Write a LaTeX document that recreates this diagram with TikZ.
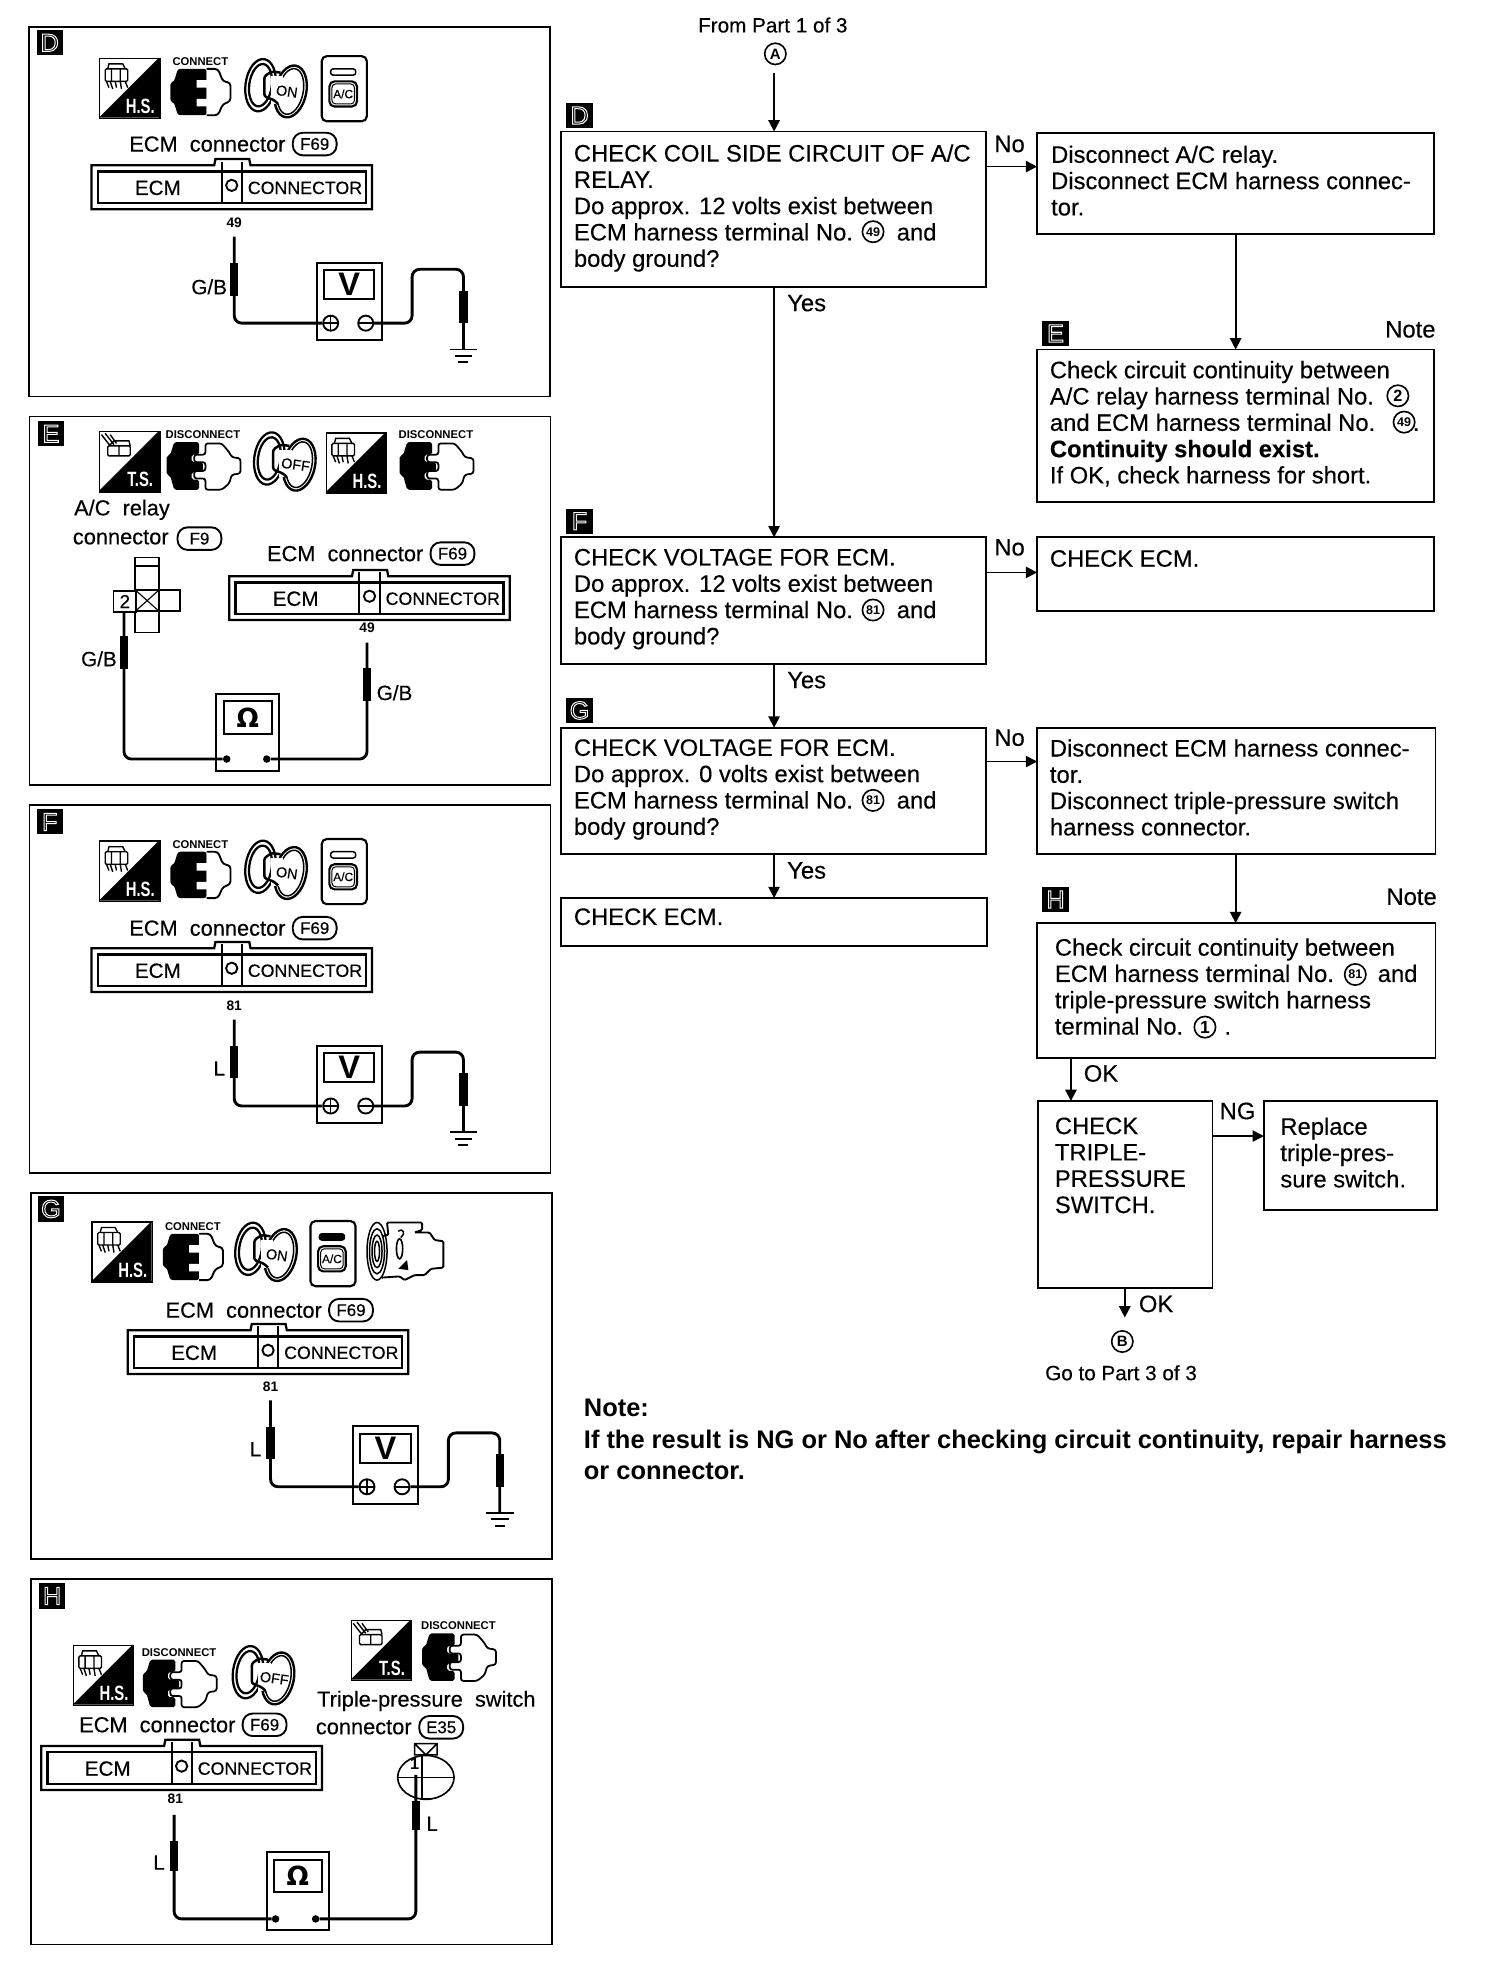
\documentclass[tikz,border=0pt]{standalone}
\usepackage{fontspec}
\usetikzlibrary{arrows.meta}
\setmainfont{Liberation Sans}
\newfontfamily\dvf{DejaVu Sans}
\newfontfamily\heavy[FakeBold=0.3]{Liberation Sans}
\newcommand\fsz[2]{\fontsize{#1}{#2}\selectfont}
\newcommand\hollow[1]{\special{pdf:code 1 Tr 0.8 w 1 G}#1\special{pdf:code 0 Tr 0 G}}
\tikzset{
 x=1pt,y=-1pt,
 tbox/.style={draw,line width=1.5pt,anchor=north west,inner sep=0pt,outer sep=0pt},
 ftext/.style={anchor=north west,inner sep=0pt,align=left,yshift=1pt,font=\heavy\fsz{19}{21}},
 lbl/.style={inner sep=0pt,font=\heavy\fsz{19}{21}},
 lbs/.style={inner sep=0pt,font=\heavy\fsz{16.5}{21}},
 arr/.style={line width=1.4pt,-{Triangle[length=9pt,width=9pt]}},
 tag/.style={fill=black,text=white,minimum width=21pt,minimum height=20pt,inner sep=0pt,font=\fsz{20}{20},anchor=north west},
 panel/.style={draw,line width=1.2pt,anchor=north west,inner sep=0pt},
 wire/.style={line width=2.3pt,rounded corners=6pt},
 probe/.style={line width=6.5pt},
 ln/.style={line width=1.4pt},
 hd/.style={inner sep=0pt,anchor=west,font=\heavy\fsz{17.4}{20}},
 ovl/.style={draw,line width=1.5pt,rounded corners=8pt,minimum width=35pt,minimum height=18pt,inner sep=0pt,font=\heavy\fsz{13.5}{13}},
 cntxt/.style={inner sep=0pt,font=\heavy\fsz{14.2}{15}},
 ecmt/.style={inner sep=0pt,font=\heavy\fsz{16.5}{15}},
 small/.style={inner sep=0pt,font=\bfseries\fsz{11}{11}},
 icont/.style={inner sep=0pt,font=\bfseries\fsz{9}{9}},
 wl/.style={inner sep=0pt,font=\heavy\fsz{16.5}{16}},
 term/.style={circle,draw,line width=1.5pt,fill=white,minimum size=12pt,inner sep=0pt},
 dot/.style={circle,fill=black,minimum size=6pt,inner sep=0pt},
 cnode/.style={circle,draw,line width=1.3pt,fill=white,minimum size=17pt,inner sep=0pt,font=\bfseries\fsz{10}{10}},
}
\newcommand\flowbox[6]{\node[tbox,minimum width={(#4-#2)*1pt},minimum height={(#5-#3)*1pt}] (#1) at (#2,#3) {};}
% ---- icons
\newcommand\iconSq[5]{% prefix x y label kind
\begin{scope}[shift={(#2,#3)}]
\node[draw,line width=1.2pt,fill=white,minimum size=48pt,inner sep=0pt,anchor=north west] (#1-sq) at (0,0) {};
\fill (48,0)--(48,48)--(0,48)--cycle;
\node[inner sep=0pt,text=white,font=\bfseries\fsz{16.5}{16}] (#1-t) at (33,39) {\scalebox{.72}[1]{#4}};
\ifnum#5=0
\draw[line width=1.1pt,rounded corners=1pt] (5,9) rectangle (23,19);
\draw[line width=1.1pt] (7,9)--(8,5)--(19,5)--(21,9) (10,9)--(10,19) (17,9)--(17,19) (9,19)--(11,25) (13,19)--(14,24) (17,19)--(18,25) (21,19)--(23,24) (6,19)--(8,24);
\else
\draw[line width=1.1pt,rounded corners=1pt] (7,12) rectangle (25,20) (16,12)--(16,20);
\draw[line width=1.1pt] (2,3)--(9,12) (5,2)--(12,11) (9,3)--(14,10) (8,12)--(12,8)--(24,8)--(25,12);
\fi
\end{scope}}
\newcommand\iconConn[3]{% prefix x y
\begin{scope}[shift={(#2,#3)}]
\node[icont] (#1-lab) at (24,-6) {CONNECT};
\fill[rounded corners=2pt] (0,11)--(3,10)--(6,0)--(29,0)--(29,37)--(6,37)--(3,27)--(0,26)--cycle;
\draw[line width=1.5pt,fill=white,rounded corners=2.5pt] (29,0)--(38,0)--(42,10)--(48,11)--(48,26)--(42,28)--(38,37)--(29,37);
\fill[white] (21,9) rectangle (30,15) (21,24) rectangle (30,30);
\end{scope}}
\newcommand\iconDisc[3]{%
\begin{scope}[shift={(#2,#3)}]
\node[icont] (#1-lab) at (29,-6) {DISCONNECT};
\fill[rounded corners=1.5pt] (0,11)--(3,10)--(6,0)--(26,0)--(26,10)--(20,10)--(20,16)--(29,16)--(29,24)--(20,24)--(20,30)--(26,30)--(26,38)--(6,38)--(3,27)--(0,26)--cycle;
\draw[line width=1.4pt,fill=white,rounded corners=2pt] (31,1)--(44,1)--(50,8)--(52,12)--(59,13)--(59,25)--(52,26)--(50,33)--(44,38)--(31,38)--(31,29)--(22,29)--(22,23)--(31,23)--(31,16)--(22,16)--(22,10)--(31,10)--cycle;
\end{scope}}
\newcommand\iconKey[4]{%
\begin{scope}[shift={(#2,#3)}]
\draw[line width=1.8pt,rotate around={-8:(12,21)}] (12,21) ellipse [x radius=12,y radius=21] (12,21) ellipse [x radius=9,y radius=17];
\draw[line width=1.9pt,fill=white,rotate around={-12:(36,26)}] (36,26) ellipse [x radius=12.5,y radius=21];
\draw[line width=1.2pt,rotate around={-12:(36,26)}] (36,26) ellipse [x radius=10,y radius=18.5];
\fill[white] (20,14) rectangle (30,36);
\draw[line width=2pt,rounded corners=2pt] (28,11)--(21,10)--(15,14)--(15,30)--(23,33)--(26,36);
\node[inner sep=0pt,rotate=-8,font=\heavy\fsz{11.5}{11}] (#1-t) at (33,26) {#4};
\end{scope}}
\newcommand\iconAC[4]{% prefix x y fill
\begin{scope}[shift={(#2,#3)}]
\node[draw,line width=1.7pt,rounded corners=4pt,minimum width=36pt,minimum height=52pt,inner sep=0pt,anchor=north west] (#1-box) at (0,0) {};
\draw[line width=1.2pt,rounded corners=2pt,fill=#4] (8,11) rectangle (28,16);
\draw[line width=1.7pt,rounded corners=4pt] (7,21) rectangle (29,41);
\draw[line width=.8pt,rounded corners=3pt] (9,23) rectangle (27,39);
\node[inner sep=0pt,font=\heavy\fsz{9.5}{10}] (#1-t) at (18,31) {A/C};
\end{scope}}
\newcommand\iconComp[3]{%
\begin{scope}[shift={(#2,#3)}]
\draw[line width=1.5pt,rounded corners=1pt] (13,12)--(18,11)--(17,1)--(45,1)--(45,7)--(39,9)--(51,9)--(55,15)--(62,16)--(62,37)--(52,38)--(47,43)--(39,43)--(31,47)--(27,44)--(13,45);
\foreach \rr/\ss in {8/23,6/18,4/13,2/8}{\draw[line width=1.2pt] (9,24) ellipse [x radius=\rr,y radius=\ss];}
\draw[line width=1.3pt] (27,22) ellipse [x radius=2.5,y radius=8];
\fill (33,31)--(34,39)--(26,38)--cycle;
\draw[line width=1.2pt] (26,8)..controls (30,5) and (32,10)..(28,13);
\end{scope}}
% ---- ecm connector, coordinates as in panel D
\newcommand\ecmConn[3]{% prefix x y (top-left of outer frame)
\begin{scope}[shift={(#2,#3)}]
\draw[ln,line width=1.8pt] (0,0)--(98,0)--(99,-5)--(126,-5)--(127,0)--(224,0)--(224,35)--(0,35)--cycle;
\draw[ln,line width=1.8pt] (5,5) rectangle (219,30);
\draw[ln,line width=1.6pt] (104,-3)--(104,30) (120,-3)--(120,30);
\draw[line width=1.5pt] (112,16) circle [radius=4.5];
\node[ecmt] (#1-ecm) at (53,18) {ECM};
\node[cntxt] (#1-con) at (170.5,18) {CONNECTOR};
\end{scope}}
\newcommand\ecmHead[3]{%
\node[hd] (#1-hd) at (#2,#3) {ECM\ \ connector};
\node[ovl,anchor=west] (#1-ov) at (#2+130,#3) {F69};}
\newcommand\gnd[3]{\draw[line width=1.5pt] (#2-11,#3)--(#2+11,#3) (#2-7,#3+5)--(#2+7,#3+5) (#2-4,#3+10)--(#2+4,#3+10);}
% ---- voltmeter set-up, coordinates as in panel D
\newcommand\voltset[5]{% prefix dx dy number wirelabel
\begin{scope}[shift={(#2,#3)}]
\node[small] (#1-num) at (187,178) {#4};
\node[wl] (#1-wl) at (#5) {\wirename};
\coordinate (#1-top) at (187,189);
\coordinate (#1-gtop) at (370,279);
\node[draw,line width=1.6pt,minimum width=52pt,minimum height=62pt,inner sep=0pt,anchor=north west] (#1-m) at (252,209) {};
\node[draw,line width=1.6pt,minimum width=40pt,minimum height=23pt,inner sep=0pt,anchor=north west,font=\bfseries\fsz{26}{26}] (#1-w) at (258,215) {V};
\node[term] (#1-p) at (264,258) {};
\node[term] (#1-n) at (292,258) {};
\draw[line width=1.3pt] (258,258)--(270,258) (264,252)--(264,264) (286,258)--(298,258);
\draw[wire] (#1-top)--(187,258)--(#1-p.west);
\draw[wire] (#1-n.east)--(329,258)--(329,215)--(370,215)--(#1-gtop);
\draw[probe] (187,210)--(187,236);
\draw[probe] (370,232)--(370,258);
\gnd{#1}{370}{279}
\end{scope}}
\newcommand\wirename{}
\begin{document}
\begin{tikzpicture}
\useasboundingbox (0,0) rectangle (1201,1568);
\fill[white] (0,0) rectangle (1201,1568);
% panels
\node[panel,minimum width=416pt,minimum height=295pt] (pD) at (22.5,21) {};
\node[panel,minimum width=416pt,minimum height=294pt] (pE) at (23,332) {};
\node[panel,minimum width=416pt,minimum height=294pt] (pF) at (23,642) {};
\node[panel,minimum width=416pt,minimum height=292pt] (pG) at (24,952) {};
\node[panel,minimum width=416pt,minimum height=292pt] (pH) at (24,1260) {};
\node[tag] (tD) at (29,24) {\hollow{D}};
\node[tag] (tE) at (30,336) {\hollow{E}};
\node[tag] (tF) at (29,646) {\hollow{F}};
\node[tag] (tG) at (30,955) {\hollow{G}};
\node[tag] (tH) at (31,1264) {\hollow{H}};
% panel D
\iconSq{dS}{79}{46}{H.S.}{0}
\iconConn{dC}{136}{55}
\iconKey{dK}{196}{47}{ON}
\iconAC{dA}{256}{44}{white}
\ecmHead{dE}{103}{115}
\ecmConn{dX}{73}{132}
\renewcommand\wirename{G/B}
\voltset{dV}{0}{0}{49}{167,229}
% panel F
\iconSq{fS}{79}{671}{H.S.}{0}
\iconConn{fC}{136}{680}
\iconKey{fK}{196}{671}{ON}
\iconAC{fA}{256}{669}{white}
\ecmHead{fE}{103}{741}
\ecmConn{fX}{73}{757}
\renewcommand\wirename{L}
\voltset{fV}{0}{625}{81}{175,228}
% panel G
\iconSq{gS}{73}{975}{H.S.}{0}
\iconConn{gC}{130}{985}
\iconKey{gK}{188}{976}{ON}
\iconAC{gA}{247}{974}{black}
\iconComp{gP}{292}{975}
\ecmHead{gE}{132}{1046}
\ecmConn{gX}{102}{1062}
\renewcommand\wirename{L}
\voltset{gV}{29}{929}{81}{175,228}
% panel E
\iconSq{eS}{79}{344}{T.S.}{1}
\iconDisc{eC}{133}{353}
\iconKey{eK}{203}{345}{OFF}
\iconSq{eT}{260}{345}{H.S.}{0}
\iconDisc{eD}{319}{353}
\node[hd] (eR1) at (59,407) {A/C\ \ relay};
\node[hd] (eR2) at (58,429) {connector};
\node[ovl,anchor=west] (eR3) at (141,430) {F9};
\ecmHead{eE}{213}{442}
\ecmConn{eX}{183}{460}
\node[small] (eN) at (293,501) {49};
\draw[ln] (108,445) rectangle (127,505) (108,452)--(127,452) (108,471)--(108,488) (127,471) rectangle (144,488) (108,488)--(127,488) (108,471)--(127,471);
\node[draw,line width=1.4pt,fill=white,minimum width=18pt,minimum height=17pt,inner sep=0pt,anchor=north west,font=\heavy\fsz{15}{15}] (eTwo) at (90,471) {2};
\draw[line width=.9pt] (108,471)--(127,488) (127,471)--(108,488);
\node[draw,line width=1.6pt,minimum width=50pt,minimum height=62pt,inner sep=0pt,anchor=north west] (eM) at (172,553) {};
\node[draw,line width=1.6pt,minimum width=38pt,minimum height=26pt,inner sep=0pt,anchor=north west,font=\bfseries\fsz{21}{21}] (eW) at (178,559) {\dvf Ω};
\node[dot] (eP1) at (181,606) {};
\node[dot] (eP2) at (213,606) {};
\coordinate (eA) at (99,488);
\coordinate (eB) at (293,513);
\draw[wire] (eA)--(99,606)--(eP1);
\draw[wire] (eP2)--(293,606)--(eB);
\draw[probe] (99,508)--(99,534);
\draw[probe] (293,533)--(293,560);
\node[wl] (eG1) at (79,526) {G/B};
\node[wl] (eG2) at (315,553) {G/B};
% panel H
\iconSq{hS}{58}{1313}{H.S.}{0}
\iconDisc{hC}{114}{1325}
\iconKey{hK}{186}{1314}{OFF}
\iconSq{hT}{280}{1293}{T.S.}{1}
\iconDisc{hD}{337}{1304}
\node[hd] (hL1) at (253,1358) {Triple-pressure\ \ switch};
\node[hd] (hL2) at (252,1379) {connector};
\node[ovl,anchor=west] (hL3) at (334,1379) {E35};
\ecmHead{hE}{63}{1377}
\ecmConn{hX}{33}{1394}
\node[small] (hN) at (140,1436) {81};
\node[draw,line width=1.6pt,minimum width=50pt,minimum height=62pt,inner sep=0pt,anchor=north west] (hM) at (212,1478) {};
\node[draw,line width=1.6pt,minimum width=38pt,minimum height=26pt,inner sep=0pt,anchor=north west,font=\bfseries\fsz{21}{21}] (hW) at (218,1484) {\dvf Ω};
\node[dot] (hP1) at (220,1532) {};
\node[dot] (hP2) at (252,1532) {};
\coordinate (hA) at (139,1449);
\coordinate (hB) at (332,1417);
\draw[wire] (hA)--(139,1532)--(hP1);
\draw[wire] (hP2)--(332,1532)--(hB);
\draw[probe] (139,1470)--(139,1494);
\draw[probe] (332,1438)--(332,1461);
\draw[line width=1.3pt] (340,1419) ellipse [x radius=22.5,y radius=17.5];
\draw[line width=1.3pt] (318,1419)--(362,1419) (337,1401)--(337,1436) (337,1436)--(344,1436);
\draw[line width=1.3pt] (331,1392) rectangle (349,1401) (331,1392)--(340,1401)--(349,1392);
\node[inner sep=0pt,font=\bfseries\fsz{13}{13}] (hOne) at (331,1408) {1};
\node[wl] (hLl) at (127,1487) {L};
\node[wl] (hLr) at (345,1456) {L};
% flowchart
\node[lbs] (from) at (617,20) {From Part 1 of 3};
\node[cnode,font=\bfseries\fsz{12}{12}] (A) at (619,43) {A};
\node[tag] (fD) at (452,82) {\hollow{D}};
\flowbox{bD}{448}{105}{787}{229}{}
\node[ftext] (bDt) at (458,116) {CHECK COIL SIDE CIRCUIT OF A/C\\RELAY.\\Do approx. 12 volts exist between\\ECM harness terminal No.\hspace{35pt}and\\body ground?};
\node[cnode] (c1) at (697,185) {49};
\flowbox{bN}{828}{106}{1145}{187}{}
\node[ftext] (bNt) at (839,117) {Disconnect A/C relay.\\Disconnect ECM harness connec-\\tor.};
\node[tag] (fE) at (832,256) {\hollow{E}};
\node[lbl] (note1) at (1126,263) {Note};
\flowbox{bE}{828}{279}{1145}{401}{}
\node[ftext] (bEt) at (838,289) {Check circuit continuity between\\A/C relay harness terminal No.\\and ECM harness terminal No.\hspace{30pt}.\\\textbf{Continuity should exist.}\\If OK, check harness for short.};
\node[cnode,font=\bfseries\fsz{13}{13}] (c2) at (1116,316) {2};
\node[cnode] (c3) at (1121,337) {49};
\node[tag] (fF) at (452,406) {\hollow{F}};
\flowbox{bF}{448}{429}{787}{530}{}
\node[ftext] (bFt) at (458,439) {CHECK VOLTAGE FOR ECM.\\Do approx. 12 volts exist between\\ECM harness terminal No.\hspace{35pt}and\\body ground?};
\node[cnode] (c4) at (697,487) {81};
\flowbox{bC}{828}{429}{1145}{488}{}
\node[ftext] (bCt) at (838,440) {CHECK ECM.};
\node[tag] (fG) at (452,557) {\hollow{G}};
\flowbox{bG}{448}{581}{787}{682}{}
\node[ftext] (bGt) at (458,591) {CHECK VOLTAGE FOR ECM.\\Do approx. 0 volts exist between\\ECM harness terminal No.\hspace{35pt}and\\body ground?};
\node[cnode] (c5) at (697,639) {81};
\flowbox{bM}{828}{581}{1146}{682}{}
\node[ftext] (bMt) at (838,591) {Disconnect ECM harness connec-\\tor.\\Disconnect triple-pressure switch\\harness connector.};
\flowbox{bL}{448}{717}{788}{755}{}
\node[ftext] (bLt) at (458,726) {CHECK ECM.};
\node[tag] (fH) at (832,708) {\hollow{H}};
\node[lbl] (note2) at (1127,716) {Note};
\flowbox{bH}{828}{737}{1146}{845}{}
\node[ftext] (bHt) at (842,750) {Check circuit continuity between\\ECM harness terminal No.\hspace{35pt}and\\triple-pressure switch harness\\terminal No.\hspace{33pt}.};
\node[cnode] (c6) at (1082,778) {81};
\node[cnode,font=\bfseries\fsz{14}{14}] (c7) at (962,820) {1};
\flowbox{bT}{829}{879}{968}{1028}{}
\node[ftext] (bTt) at (842,893) {CHECK\\TRIPLE-\\PRESSURE\\SWITCH.};
\flowbox{bR}{1009}{879}{1147}{966}{}
\node[ftext] (bRt) at (1022,893) {Replace\\triple-pres-\\sure switch.};
\node[cnode,font=\bfseries\fsz{12}{12}] (B) at (896,1071) {B};
\node[lbs] (goto) at (895,1096) {Go to Part 3 of 3};
\coordinate (xY) at (618,0);
\coordinate (xE) at (986.5,0);
\coordinate (xH) at (855,0);
\coordinate (xO) at (898,0);
\coordinate (yN1) at (0,133);
\coordinate (yN2) at (0,457);
\coordinate (yN3) at (0,608);
\coordinate (yN4) at (0,907);
\draw[arr,shorten <=6pt] (A.south -| xY)--(bD.north -| xY);
\draw[arr] (bD.east |- yN1)--(bN.west |- yN1);
\draw[arr] (bN.south -| xE)--(bE.north -| xE);
\draw[arr] (bD.south -| xY)--(bF.north -| xY);
\draw[arr] (bF.east |- yN2)--(bC.west |- yN2);
\draw[arr] (bF.south -| xY)--(bG.north -| xY);
\draw[arr] (bG.east |- yN3)--(bM.west |- yN3);
\draw[arr] (bG.south -| xY)--(bL.north -| xY);
\draw[arr] (bM.south -| xE)--(bH.north -| xE);
\draw[arr] (bH.south -| xH)--(bT.north -| xH);
\draw[arr] (bT.east |- yN4)--(bR.west |- yN4);
\draw[arr,shorten >=10pt] (bT.south -| xO)--(B.north -| xO);
\node[lbl] (lN1) at (806,115) {No};
\node[lbl] (lY1) at (644,242) {Yes};
\node[lbl] (lN2) at (806,437) {No};
\node[lbl] (lY2) at (644,543) {Yes};
\node[lbl] (lN3) at (806,589) {No};
\node[lbl] (lY3) at (644,695) {Yes};
\node[lbl] (lO1) at (879,857) {OK};
\node[lbl] (lG) at (988,887) {NG};
\node[lbl] (lO2) at (923,1041) {OK};
\node[anchor=north west,inner sep=0pt,align=left,font=\bfseries\fsz{20.3}{25}] (nt) at (466,1117) {Note:\\If the result is NG or No after checking circuit continuity, repair harness\\or connector.};
\end{tikzpicture}
\end{document}
